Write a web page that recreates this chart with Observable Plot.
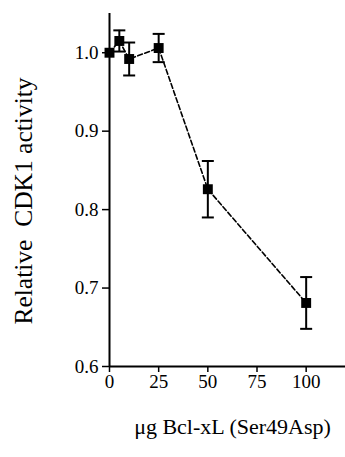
<!DOCTYPE html>
<html>
<head>
<meta charset="utf-8">
<script src="https://cdn.jsdelivr.net/npm/d3@7"></script>
<script src="https://cdn.jsdelivr.net/npm/@observablehq/plot@0.6"></script>
<style>
  html, body { margin: 0; padding: 0; background: #fff; }
  #chart svg { display: block; }
</style>
</head>
<body>
<div id="chart"></div>
<script>
const dose = [0, 5, 10, 25, 50, 100];
const activity = [1.000, 1.015, 0.992, 1.006, 0.826, 0.681];
const err = [0, 0.0135, 0.021, 0.018, 0.036, 0.033];
const xTicks = [0, 25, 50, 75, 100];
const yTicks = [0.6, 0.7, 0.8, 0.9, 1.0];
const xLabel = "μg Bcl-xL (Ser49Asp)";
const yLabel = "Relative  CDK1 activity";

const data = dose.map((d, i) => ({dose: d, act: activity[i], err: err[i]}));
const bars = data.filter(d => d.err > 0);

const capSymbol = {
  draw(ctx, size) {
    const w = 6;
    ctx.moveTo(-w, 0);
    ctx.lineTo(w, 0);
  }
};

const font = "Liberation Serif, Times New Roman, serif";

const chart = Plot.plot({
  width: 345,
  height: 457,
  marginLeft: 109,
  marginRight: 0,
  marginTop: 13,
  marginBottom: 91,
  style: {fontFamily: font, fontSize: "19px", color: "#000", background: "#fff"},
  x: {domain: [0, 120]},
  y: {domain: [0.6, 1.05]},
  marks: [
    Plot.axisX({ticks: xTicks, tickSize: 6, tickPadding: 2, label: null, tickFormat: d3.format("d"), strokeWidth: 1.5, fontSize: 19, fontFamily: font}),
    Plot.axisY({ticks: yTicks, tickSize: 7, tickPadding: 4, label: null, tickFormat: d3.format(".1f"), strokeWidth: 1.5, fontSize: 19, fontFamily: font}),
    Plot.ruleX([0], {strokeWidth: 2}),
    Plot.ruleY([0.6], {strokeWidth: 2}),
    Plot.line(data, {x: "dose", y: "act", stroke: "#000", strokeWidth: 1.6, strokeDasharray: "5,2.5"}),
    Plot.ruleX(bars, {x: "dose", y1: d => d.act - d.err, y2: d => d.act + d.err, stroke: "#000", strokeWidth: 2}),
    Plot.dot(bars, {x: "dose", y: d => d.act + d.err, symbol: capSymbol, r: 6, stroke: "#000", strokeWidth: 2, fill: "none"}),
    Plot.dot(bars, {x: "dose", y: d => d.act - d.err, symbol: capSymbol, r: 6, stroke: "#000", strokeWidth: 2, fill: "none"}),
    Plot.dot(data, {x: "dose", y: "act", symbol: "square", r: 5.6, fill: "#000", stroke: "none"}),
    Plot.text([xLabel], {frameAnchor: "bottom", textAnchor: "middle", dx: 5, dy: 67, fontSize: 22, fontFamily: font, fill: "#000"}),
    Plot.text([yLabel], {frameAnchor: "left", textAnchor: "middle", dx: -86, dy: 11, rotate: -90, fontSize: 25.5, fontFamily: font, fill: "#000"})
  ]
});
document.getElementById("chart").appendChild(chart);
</script>
</body>
</html>
